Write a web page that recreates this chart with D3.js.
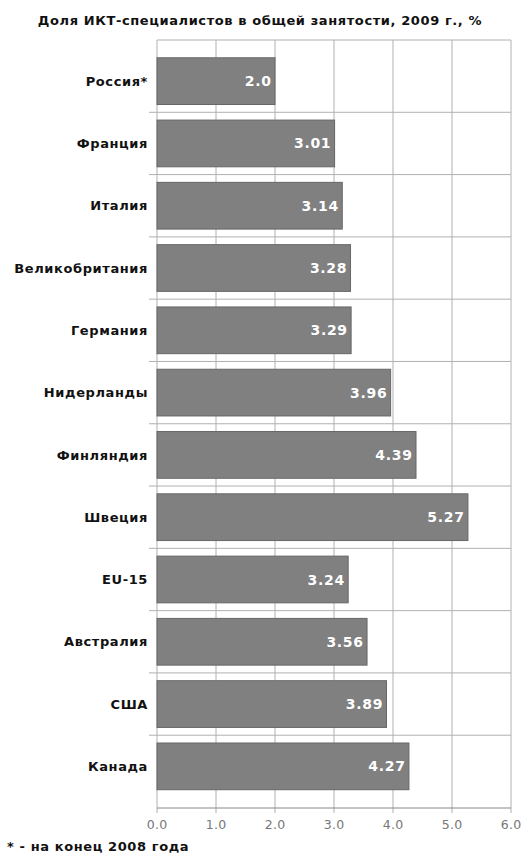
<!DOCTYPE html>
<html><head><meta charset="utf-8">
<script src="https://cdn.jsdelivr.net/npm/d3@7"></script>
<style>body{margin:0;background:#fff}</style>
</head><body>
<svg id="c" width="525" height="856"></svg>
<script>
const categories = ["Россия*","Франция","Италия","Великобритания","Германия","Нидерланды","Финляндия","Швеция","EU-15","Австралия","США","Канада"];
const values = [2.0,3.01,3.14,3.28,3.29,3.96,4.39,5.27,3.24,3.56,3.89,4.27];
const valueLabels = ["2.0","3.01","3.14","3.28","3.29","3.96","4.39","5.27","3.24","3.56","3.89","4.27"];
const xTicks = [0,1,2,3,4,5,6];
const title = "Доля ИКТ-специалистов в общей занятости, 2009 г., %";
const footnote = "* - на конец 2008 года";

(function(){
const svg = d3.select("#c");
const font = "DejaVu Sans, Verdana, sans-serif";
const x = d3.scaleLinear().domain([0,6]).range([157,511]);
const y = d3.scaleBand().domain(categories).range([50,797.5]).paddingInner(0.25).paddingOuter(0.125);
const yTop = 40, yBottom = 808;
const grid = "#b0b0b0";

svg.append("text").attr("x",260).attr("y",25).attr("text-anchor","middle")
  .attr("font-family",font).attr("font-weight","bold").attr("font-size",13).attr("letter-spacing",0.6)
  .attr("fill","#111").text(title);

svg.append("g").selectAll("line").data(xTicks).join("line")
  .attr("x1",d=>x(d)).attr("x2",d=>x(d)).attr("y1",yTop).attr("y2",yBottom+5)
  .attr("stroke",grid).attr("stroke-width",1);
svg.append("line").attr("x1",x(0)).attr("x2",x(6)).attr("y1",yTop).attr("y2",yTop).attr("stroke",grid);
const step = y.step();
const seps = categories.slice(1).map(c => y(c) - (step - y.bandwidth())/2);
svg.append("g").selectAll("line").data(seps).join("line")
  .attr("x1",149).attr("x2",x(6)).attr("y1",d=>d).attr("y2",d=>d)
  .attr("stroke",grid).attr("stroke-width",1);
svg.append("line").attr("x1",x(0)).attr("x2",x(6)).attr("y1",yBottom).attr("y2",yBottom).attr("stroke","#888");

const data = categories.map((c,i)=>({c,v:values[i],l:valueLabels[i]}));
const g = svg.append("g");
g.selectAll("rect").data(data).join("rect")
  .attr("x",x(0)).attr("y",d=>y(d.c)).attr("width",d=>x(d.v)-x(0)).attr("height",y.bandwidth())
  .attr("fill","#808080").attr("stroke","#666").attr("stroke-width",1);
g.selectAll("text.v").data(data).join("text").attr("class","v")
  .attr("x",d=>x(d.v)-3.3).attr("y",d=>y(d.c)+y.bandwidth()/2).attr("dy","0.36em")
  .attr("text-anchor","end").attr("font-family",font).attr("font-weight","bold").attr("font-size",14)
  .attr("letter-spacing",0.7).attr("fill","#fff").text(d=>d.l);
g.selectAll("text.c").data(data).join("text").attr("class","c")
  .attr("x",148).attr("y",d=>y(d.c)+y.bandwidth()/2).attr("dy","0.36em")
  .attr("text-anchor","end").attr("font-family",font).attr("font-weight","bold").attr("font-size",13)
  .attr("letter-spacing",0.6).attr("fill","#111").text(d=>d.c);

svg.append("g").selectAll("text").data(xTicks).join("text")
  .attr("x",d=>x(d)+0.2).attr("y",829).attr("text-anchor","middle")
  .attr("font-family",font).attr("font-size",12.5).attr("letter-spacing",0.4).attr("fill","#777").text(d=>d.toFixed(1));

svg.append("text").attr("x",7).attr("y",851).attr("font-family",font).attr("font-weight","bold")
  .attr("font-size",13).attr("letter-spacing",0.6).attr("fill","#111").text(footnote);
})();
</script>
</body></html>
